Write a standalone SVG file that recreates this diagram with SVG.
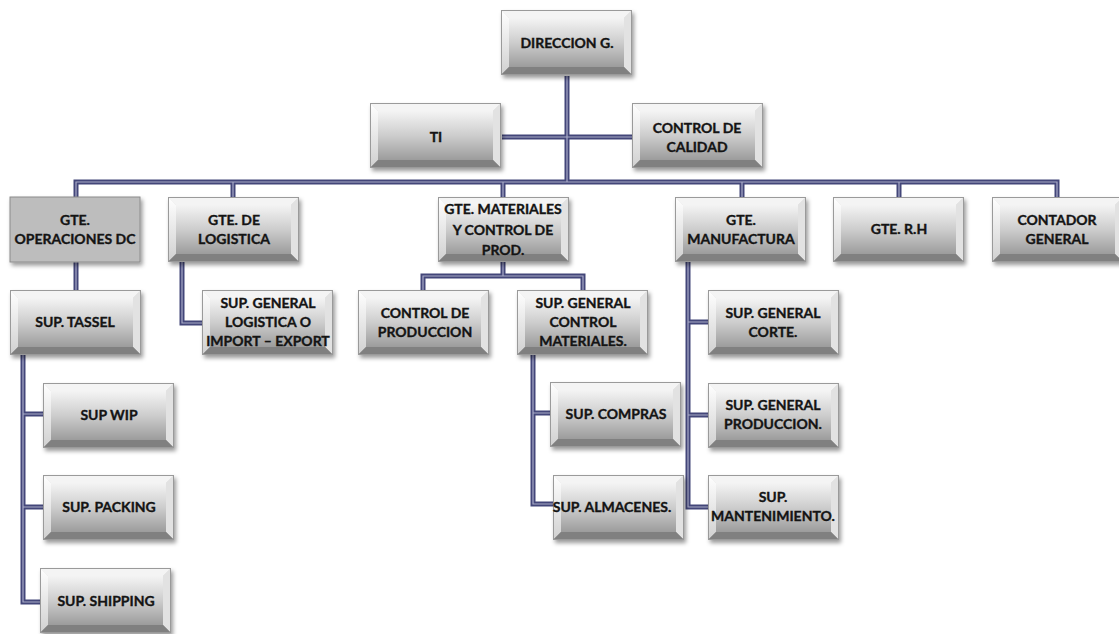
<svg xmlns="http://www.w3.org/2000/svg" xmlns:xlink="http://www.w3.org/1999/xlink" width="1119" height="634" viewBox="0 0 1119 634">
<defs>
<style>
.t{font-family:Lato,"Open Sans","Liberation Sans",sans-serif;font-weight:bold;font-size:14px;fill:#141414;stroke:#141414;stroke-width:0.35;text-anchor:middle}
.c{fill:none;stroke:#434679;stroke-width:5}
.ci{fill:none;stroke:#a9abc8;stroke-width:1.2}
</style>
<linearGradient id="gOut" x1="0" y1="0" x2="0" y2="1"><stop offset="0" stop-color="#e4e4e4"/><stop offset="1" stop-color="#8a8a8a"/></linearGradient>
<linearGradient id="gIn" x1="0" y1="0" x2="0" y2="1"><stop offset="0" stop-color="#f4f4f4"/><stop offset="0.5" stop-color="#cdcdcd"/><stop offset="1" stop-color="#9c9c9c"/></linearGradient>
<linearGradient id="gL" x1="0" y1="0" x2="0" y2="1"><stop offset="0" stop-color="#ffffff"/><stop offset="1" stop-color="#d0d0d0"/></linearGradient>
<filter id="sh" x="-10%" y="-10%" width="125%" height="130%"><feDropShadow dx="2" dy="3" stdDeviation="2.2" flood-color="#000" flood-opacity="0.4"/></filter>
<g id="box">
<rect x="0" y="0" width="131" height="65" fill="url(#gOut)"/>
<polygon points="0,0 131,0 123,8 8,8" fill="#f4f4f4"/>
<polygon points="0,0 8,8 8,57 0,65" fill="url(#gL)"/>
<polygon points="131,0 123,8 123,57 131,65" fill="#e2e2e2"/>
<polygon points="0,65 8,57 123,57 131,65" fill="#808080"/>
<rect x="8" y="8" width="115" height="49" fill="url(#gIn)"/>
<rect x="0.5" y="0.5" width="130" height="64" fill="none" stroke="#9a9a9a" stroke-width="1"/>
</g>
</defs>
<rect width="1119" height="634" fill="#ffffff"/>
<g id="connectors">
<path class="c" d="M567 76V182M502 137H632M76 197V182H1057V197M233 182V197M503 182V197M742 182V197M899 182V197M76 262V290M182 262V323H202M503 262V276M423 290V276H583V290M23 355V602H40M23 414H43M23 507H43M533 355V504H553M533 413H550M688 262V507H708M688 322H708M688 415H708"/>
<path class="ci" d="M567 76V182M502 137H632M76 197V182H1057V197M233 182V197M503 182V197M742 182V197M899 182V197M76 262V290M182 262V323H202M503 262V276M423 290V276H583V290M23 355V602H40M23 414H43M23 507H43M533 355V504H553M533 413H550M688 262V507H708M688 322H708M688 415H708"/>
</g>
<g id="n-direccion"><use xlink:href="#box" x="501" y="10" filter="url(#sh)"/><text class="t" x="567" y="48">DIRECCION G.</text></g>
<g id="n-ti"><use xlink:href="#box" x="370" y="103" filter="url(#sh)"/><text class="t" x="436" y="142">TI</text></g>
<g id="n-calidad"><use xlink:href="#box" x="632" y="103" filter="url(#sh)"/><text class="t" x="697" y="133">CONTROL DE</text><text class="t" x="697" y="152">CALIDAD</text></g>
<g id="n-operaciones"><rect x="10" y="197" width="130" height="65" fill="#bdbdbd" stroke="#8c8c8c" stroke-width="1" filter="url(#sh)"/><text class="t" x="75" y="225">GTE.</text><text class="t" x="75" y="244">OPERACIONES DC</text></g>
<g id="n-logistica"><use xlink:href="#box" x="168" y="197" filter="url(#sh)"/><text class="t" x="234" y="225">GTE. DE</text><text class="t" x="234" y="244">LOGISTICA</text></g>
<g id="n-materiales"><use xlink:href="#box" x="438" y="197" filter="url(#sh)"/><text class="t" x="503" y="214">GTE. MATERIALES</text><text class="t" x="503" y="235">Y CONTROL DE</text><text class="t" x="503" y="255">PROD.</text></g>
<g id="n-manufactura"><use xlink:href="#box" x="675" y="197" filter="url(#sh)"/><text class="t" x="741" y="225">GTE.</text><text class="t" x="741" y="244">MANUFACTURA</text></g>
<g id="n-rh"><use xlink:href="#box" x="833" y="197" filter="url(#sh)"/><text class="t" x="899" y="234">GTE. R.H</text></g>
<g id="n-contador"><use xlink:href="#box" x="992" y="197" filter="url(#sh)"/><text class="t" x="1057" y="225">CONTADOR</text><text class="t" x="1057" y="244">GENERAL</text></g>
<g id="n-tassel"><use xlink:href="#box" x="10" y="290" filter="url(#sh)"/><text class="t" x="75" y="327">SUP. TASSEL</text></g>
<g id="n-suplog"><use xlink:href="#box" x="202" y="290" filter="url(#sh)"/><text class="t" x="268" y="308">SUP. GENERAL</text><text class="t" x="268" y="327">LOGISTICA O</text><text class="t" x="268" y="346">IMPORT – EXPORT</text></g>
<g id="n-ctrlprod"><use xlink:href="#box" x="358" y="290" filter="url(#sh)"/><text class="t" x="425" y="318">CONTROL DE</text><text class="t" x="425" y="337">PRODUCCION</text></g>
<g id="n-ctrlmat"><use xlink:href="#box" x="517" y="290" filter="url(#sh)"/><text class="t" x="583" y="308">SUP. GENERAL</text><text class="t" x="583" y="327">CONTROL</text><text class="t" x="583" y="346">MATERIALES.</text></g>
<g id="n-corte"><use xlink:href="#box" x="708" y="290" filter="url(#sh)"/><text class="t" x="773" y="318">SUP. GENERAL</text><text class="t" x="773" y="337">CORTE.</text></g>
<g id="n-wip"><use xlink:href="#box" x="43" y="383" filter="url(#sh)"/><text class="t" x="109" y="420">SUP WIP</text></g>
<g id="n-compras"><use xlink:href="#box" x="550" y="382" filter="url(#sh)"/><text class="t" x="616" y="419">SUP. COMPRAS</text></g>
<g id="n-produccion"><use xlink:href="#box" x="708" y="383" filter="url(#sh)"/><text class="t" x="773" y="410">SUP. GENERAL</text><text class="t" x="773" y="429">PRODUCCION.</text></g>
<g id="n-packing"><use xlink:href="#box" x="43" y="475" filter="url(#sh)"/><text class="t" x="109" y="512">SUP. PACKING</text></g>
<g id="n-almacenes"><use xlink:href="#box" x="553" y="475" filter="url(#sh)"/><text class="t" x="612" y="512">SUP. ALMACENES.</text></g>
<g id="n-mantenimiento"><use xlink:href="#box" x="708" y="475" filter="url(#sh)"/><text class="t" x="773" y="502">SUP.</text><text class="t" x="773" y="521">MANTENIMIENTO.</text></g>
<g id="n-shipping"><use xlink:href="#box" x="40" y="568" filter="url(#sh)"/><text class="t" x="106" y="606">SUP. SHIPPING</text></g>
</svg>
